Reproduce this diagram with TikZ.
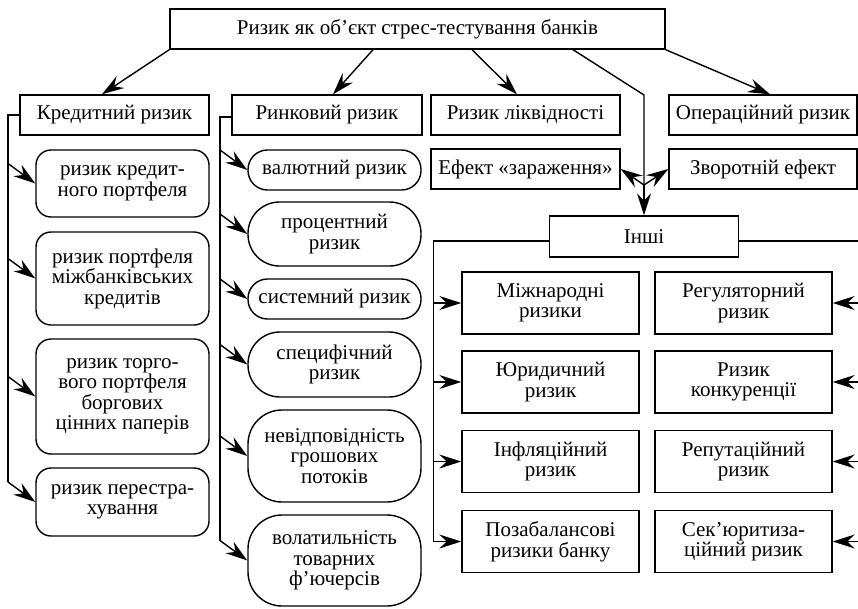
\documentclass[tikz,border=0pt]{standalone}
\usepackage{fontspec}
\setmainfont{Liberation Serif}
\usetikzlibrary{arrows.meta,calc}
\newcommand\myfs{\fontsize{21pt}{20.5pt}\selectfont}
\begin{document}
\begin{tikzpicture}[x=1pt,y=-1pt,line width=1.4pt,
  box/.style={draw, rectangle, inner sep=0pt, align=center, font=\myfs},
  rbox/.style={box, rounded corners=15pt, minimum width=173pt},
  sbox/.style={box, rounded corners=#1, minimum width=173pt},
  gbox/.style={box, minimum width=177pt, minimum height=62pt},
  arr/.style={-{Stealth[length=22pt,width=14pt,inset=7.5pt]}}]
\useasboundingbox (0,0) rectangle (858,608);

% top level
\node[box, minimum width=495pt, minimum height=40pt] (top) at (417.5,29) {Ризик як об’єкт стрес-тестування банків};
\node[box, minimum width=189pt, minimum height=40pt] (kred) at (114.5,115) {Кредитний ризик};
\node[box, minimum width=190pt, minimum height=40pt] (rynk) at (327,115) {Ринковий ризик};
\node[box, minimum width=189pt, minimum height=40pt] (likv) at (525.5,115) {Ризик ліквідності};
\node[box, minimum width=188pt, minimum height=40pt] (oper) at (763,115) {Операційний ризик};
\node[box, minimum width=189pt, minimum height=40pt] (efekt) at (525.5,169) {Ефект «зараження»};
\node[box, minimum width=188pt, minimum height=40pt] (zvor) at (763,169) {Зворотній ефект};
\node[box, minimum width=189pt, minimum height=41pt] (inshi) at (644,236.5) {Інші};

% credit column
\node[rbox, minimum height=67pt] (k1) at (122.5,183.5) {ризик кредит-\\ного портфеля};
\node[rbox, minimum height=93pt] (k2) at (122.5,278.5) {ризик портфеля\\міжбанківських\\кредитів};
\node[rbox, minimum height=115pt] (k3) at (122.5,396.5) {ризик торго-\\вого портфеля\\боргових\\цінних паперів};
\node[rbox, minimum height=68pt] (k4) at (122.5,502) {ризик перестра-\\хування};

% market column
\node[sbox=19.5pt, minimum height=40pt] (m1) at (334.5,170) {валютний ризик};
\node[sbox=31.5pt, minimum height=64pt] (m2) at (334.5,234) {процентний\\ризик};
\node[sbox=19.5pt, minimum height=40pt] (m3) at (334.5,299) {системний ризик};
\node[sbox=32pt, minimum height=65pt] (m4) at (334.5,364.5) {специфічний\\ризик};
\node[sbox=34pt, minimum height=92pt] (m5) at (334.5,456) {невідповідність\\грошових\\потоків};
\node[sbox=34pt, minimum height=91pt] (m6) at (334.5,560.5) {волатильність\\товарних\\ф’ючерсів};

% other risks
\node[gbox] (a1) at (550.5,303) {Міжнародні\\ризики};
\node[gbox] (a2) at (550.5,382) {Юридичний\\ризик};
\node[gbox] (a3) at (550.5,461.5) {Інфляційний\\ризик};
\node[gbox] (a4) at (550.5,541.5) {Позабалансові\\ризики банку};
\node[gbox] (b1) at (743.5,303) {Регуляторний\\ризик};
\node[gbox] (b2) at (743.5,382) {Ризик\\конкуренції};
\node[gbox] (b3) at (743.5,461.5) {Репутаційний\\ризик};
\node[gbox] (b4) at (743.5,541.5) {Сек’юритиза-\\ційний ризик};

% top arrows
\draw[arr] (top.south west) -- ([xshift=-12.5pt]kred.north);
\draw[arr] ([xshift=-44.5pt]top.south) -- ([xshift=6pt]rynk.north);
\draw[arr] ([xshift=54.5pt]top.south) -- ([xshift=-8.5pt]likv.north);
\draw[arr] (top.south east) -- ([xshift=7pt]oper.north);
\coordinate (bend) at (644,95);
\coordinate (j) at (644,185);
\draw ([xshift=155.5pt]top.south) -- (bend) -- (j);
\draw[arr] (j) -- (inshi.north);
\draw[arr] (j) -- (efekt.east);
\draw[arr] (j) -- (zvor.west);

% credit column connectors
\coordinate (kl) at (8,115);
\draw (kred.west) -| ($(k4.west -| kl)+(0,-20)$);
\foreach \n in {k1,k2,k3,k4}
  \draw[arr] ($(\n.west -| kl)+(0,-20)$) -- (\n.west);

% market column connectors
\coordinate (ml) at (220,117);
\draw ([yshift=-2pt]rynk.west) -| ($(m6.west -| ml)+(0,-20)$);
\foreach \n in {m1,m2,m3,m4,m5,m6}
  \draw[arr] ($(\n.west -| ml)+(0,-20)$) -- (\n.west);

% other risks connectors
\draw ([yshift=-4.5pt]inshi.west) -| ($(a4.west)+(-28,0)$);
\foreach \n in {a1,a2,a3,a4}
  \draw[arr] ($(\n.west)+(-28,0)$) -- (\n.west);
\coordinate (redge) at (858,241);
\draw ([yshift=-4.5pt]inshi.east) -- (redge);
\foreach \n in {b1,b2,b3,b4}
  \draw[arr] ($(\n.east)+(26,0)$) -- (\n.east);
\end{tikzpicture}
\end{document}
